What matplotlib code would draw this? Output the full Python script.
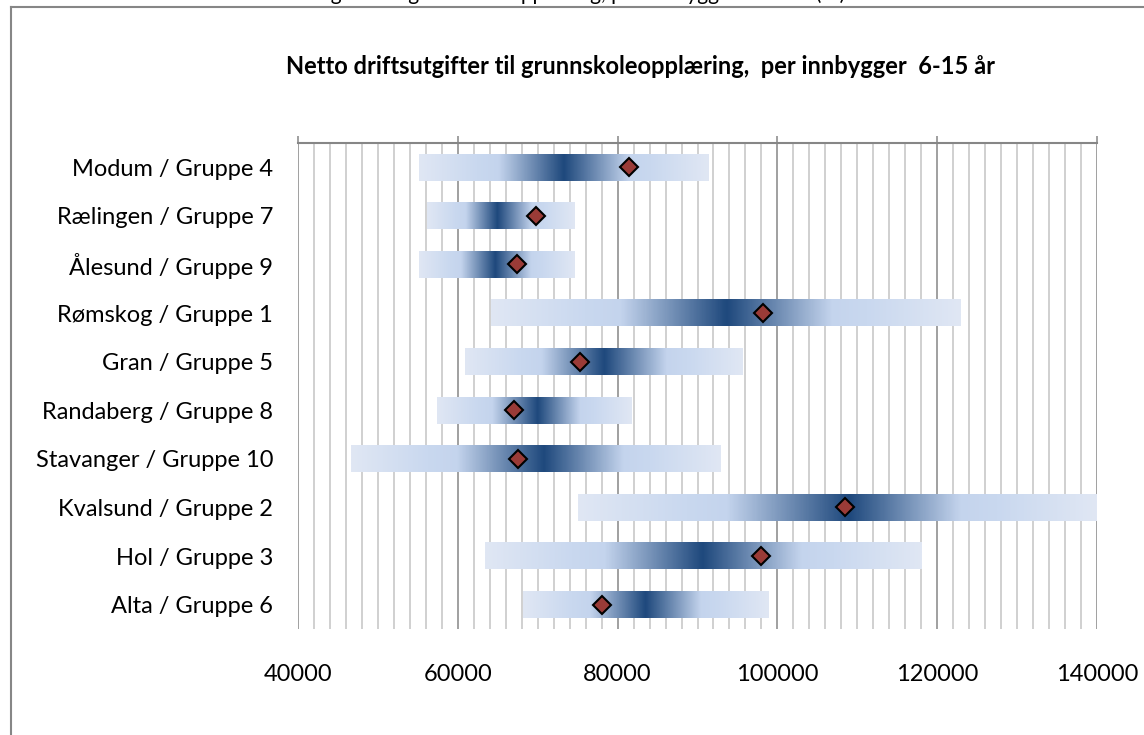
import matplotlib
matplotlib.use("Agg")
import matplotlib.pyplot as plt
import numpy as np
from matplotlib.colors import LinearSegmentedColormap
from matplotlib.lines import Line2D
from matplotlib.ticker import MultipleLocator

# municipality / group labels, top to bottom
names = [
    "Modum / Gruppe 4",
    "Rælingen / Gruppe 7",
    "Ålesund / Gruppe 9",
    "Rømskog / Gruppe 1",
    "Gran / Gruppe 5",
    "Randaberg / Gruppe 8",
    "Stavanger / Gruppe 10",
    "Kvalsund / Gruppe 2",
    "Hol / Gruppe 3",
    "Alta / Gruppe 6",
]
# group range (min / max) and where the gradient is darkest
group_min = [55100, 56200, 55100, 64150, 60900, 57400, 46600, 75100, 63400, 68100]
group_max = [91300, 74700, 74500, 122850, 95600, 81800, 92800, 140000, 118000, 98800]
group_mid = [73200, 65000, 64600, 93600, 78300, 70000, 70700, 109000, 90600, 83400]
# the municipality itself
kommune = [81400, 69800, 67400, 98200, 75300, 67000, 67500, 108400, 98000, 78000]

xticks = [40000, 60000, 80000, 100000, 120000, 140000]

title = "Netto driftsutgifter til grunnskoleopplæring,  per innbygger  6-15 år"
caption = "Netto driftsutgifter til grunnskoleopplæring, per innbygger 6-15 år (kr)"

GRID = "#868686"
MINOR = "#c3c3c3"
cmap = LinearSegmentedColormap.from_list(
    "bar",
    [(0.0, "#e0e7f4"), (0.4, "#c9d8ef"), (0.55, "#c4d4ed"), (1.0, "#1f497d")],
)

plt.rcParams["font.family"] = ["Lato", "DejaVu Sans"]

fig = plt.figure(figsize=(11.44, 7.35), dpi=100)
W, H = 1144, 735
ax = fig.add_axes([298 / W, 1 - 629 / H, (1097 - 298) / W, (629 - 143) / H])

bar_h = 0.55
for i, (lo, hi, mid) in enumerate(zip(group_min, group_max, group_mid)):
    xs = np.linspace(lo, hi, 600)
    t = np.where(xs <= mid, (xs - lo) / max(mid - lo, 1), (hi - xs) / max(hi - mid, 1))
    ax.imshow(
        t[np.newaxis, :],
        cmap=cmap,
        vmin=0,
        vmax=1,
        aspect="auto",
        interpolation="bilinear",
        extent=[lo, hi, i + bar_h / 2, i - bar_h / 2],
        zorder=2,
    )

ax.plot(
    kommune,
    range(len(names)),
    linestyle="none",
    marker="D",
    markersize=9.5,
    markerfacecolor="#9a3b37",
    markeredgecolor="black",
    markeredgewidth=1.5,
    zorder=3,
)

ax.set_xlim(40000, 140000)
ax.set_ylim(len(names) - 0.5, -0.5)
ax.set_aspect("auto")
ax.set_xticks(xticks)
ax.set_xticklabels([str(v) for v in xticks])
ax.xaxis.set_minor_locator(MultipleLocator(2000))
ax.set_yticks(range(len(names)))
ax.set_yticklabels(names)

ax.grid(True, which="minor", axis="x", color=MINOR, linewidth=1.1, zorder=0)
ax.grid(True, which="major", axis="x", color=GRID, linewidth=1.1, zorder=0)
ax.grid(False, axis="y")
ax.set_axisbelow(True)

ax.tick_params(axis="x", which="major", top=True, bottom=False, labeltop=False,
               labelbottom=True, direction="out", length=5, width=1.1,
               color=GRID, pad=20, labelsize=17)
ax.tick_params(axis="x", which="minor", top=False, bottom=False)
ax.tick_params(axis="y", length=0, pad=18, labelsize=17)

for side in ["left", "right", "bottom"]:
    ax.spines[side].set_visible(False)
ax.spines["top"].set_color(GRID)
ax.spines["top"].set_linewidth(1.5)

fig.text(641 / W, 1 - 67 / H, title, ha="center", va="center",
         fontsize=17, fontweight="bold")

# caption line from the page above, mostly cut off
fig.text(845 / W, 1.0, caption, ha="right", va="baseline", fontsize=15)

# outer chart frame
fig.add_artist(Line2D([10.5 / W, 10.5 / W], [0, 1 - 6.5 / H], color=GRID, linewidth=1.5,
                      transform=fig.transFigure))
fig.add_artist(Line2D([10.5 / W, 1], [1 - 6.5 / H, 1 - 6.5 / H], color=GRID, linewidth=1.5,
                      transform=fig.transFigure))

fig.savefig("out.png", dpi=100)
